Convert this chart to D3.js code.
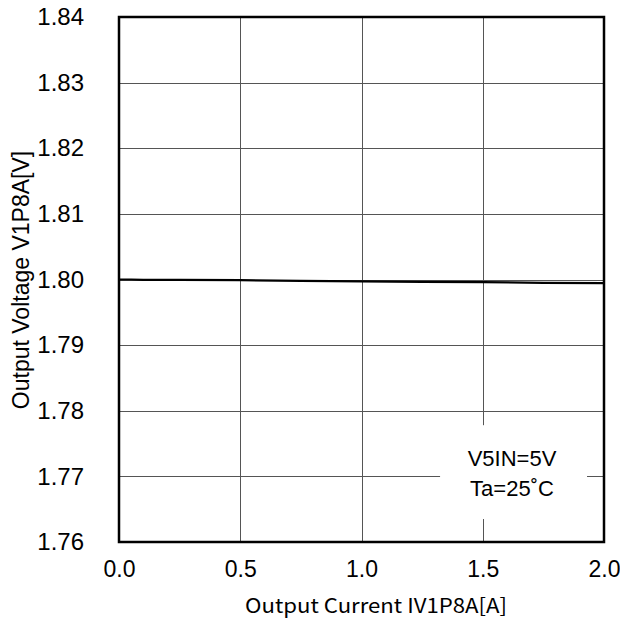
<!DOCTYPE html>
<html>
<head>
<meta charset="utf-8">
<script src="https://cdn.jsdelivr.net/npm/d3@7/dist/d3.min.js"></script>
<style>
  body { margin: 0; background: #fff; }
  svg { display: block; }
</style>
</head>
<body>
<div id="chart"></div>
<script>
// data
const currents = [0.0, 0.05, 0.1, 0.25, 0.5, 0.75, 1.0, 1.25, 1.5, 1.75, 2.0];
const voltages = [1.8000, 1.8000, 1.79995, 1.79993, 1.7999, 1.7998, 1.7997, 1.79965, 1.7996, 1.7995, 1.79945];
const xTicks = [0.0, 0.5, 1.0, 1.5, 2.0];
const yTicks = [1.76, 1.77, 1.78, 1.79, 1.80, 1.81, 1.82, 1.83, 1.84];
const notes = ['V5IN=5V', 'Ta=25\u02DAC'];

const width = 620, height = 626;
const margin = { top: 17, right: 16, bottom: 84, left: 119 };
const font = 'Liberation Sans, Arial, sans-serif';

const svg = d3.select('#chart').append('svg')
  .attr('width', width)
  .attr('height', height);

const x = d3.scaleLinear().domain([0, 2]).range([margin.left, width - margin.right]);
const y = d3.scaleLinear().domain([1.76, 1.84]).range([height - margin.bottom, margin.top]);

// grid
const grid = svg.append('g').attr('stroke', '#555').attr('stroke-width', 1);
grid.selectAll('line.v')
  .data(xTicks.slice(1, -1))
  .enter().append('line')
  .attr('class', 'v')
  .attr('x1', d => Math.round(x(d)) + 0.5).attr('x2', d => Math.round(x(d)) + 0.5)
  .attr('y1', y(1.84)).attr('y2', y(1.76));
grid.selectAll('line.h')
  .data(yTicks.slice(1, -1))
  .enter().append('line')
  .attr('class', 'h')
  .attr('x1', x(0)).attr('x2', x(2))
  .attr('y1', d => Math.round(y(d)) + 0.5).attr('y2', d => Math.round(y(d)) + 0.5);

// annotation box covers the grid
const box = { x0: 1.324, x1: 1.93, y0: 1.7635, y1: 1.7778 };
svg.append('rect')
  .attr('x', x(box.x0)).attr('y', y(box.y1))
  .attr('width', x(box.x1) - x(box.x0))
  .attr('height', y(box.y0) - y(box.y1))
  .attr('fill', '#fff');

svg.append('g')
  .attr('font-family', font)
  .attr('font-size', 22)
  .attr('text-anchor', 'middle')
  .selectAll('text')
  .data(notes)
  .enter().append('text')
  .attr('x', 512)
  .attr('y', (d, i) => 466 + i * 30)
  .text(d => d);

// data line
const line = d3.line().x(d => x(d[0])).y(d => y(d[1]));
svg.append('path')
  .datum(d3.zip(currents, voltages))
  .attr('fill', 'none')
  .attr('stroke', '#000')
  .attr('stroke-width', 2.2)
  .attr('d', line);

// frame
svg.append('rect')
  .attr('x', x(0)).attr('y', y(1.84))
  .attr('width', x(2) - x(0)).attr('height', y(1.76) - y(1.84))
  .attr('fill', 'none')
  .attr('stroke', '#000')
  .attr('stroke-width', 2.5);

// axes
const xAxis = d3.axisBottom(x).tickValues(xTicks).tickSize(0).tickPadding(19)
  .tickFormat(d3.format('.1f'));
const gx = svg.append('g')
  .attr('transform', `translate(0,${y(1.76)})`)
  .call(xAxis);
gx.select('.domain').remove();
gx.selectAll('text')
  .attr('font-family', font)
  .attr('font-size', 23)
  .attr('fill', '#000');

const yAxis = d3.axisLeft(y).tickValues(yTicks).tickSize(0).tickPadding(35)
  .tickFormat(d3.format('.2f'));
const gy = svg.append('g')
  .attr('transform', `translate(${x(0)},0)`)
  .call(yAxis);
gy.select('.domain').remove();
gy.selectAll('text')
  .attr('font-family', font)
  .attr('font-size', 24)
  .attr('fill', '#000');

// titles
svg.append('text')
  .attr('x', 376)
  .attr('y', 613)
  .attr('text-anchor', 'middle')
  .attr('font-family', 'Noto Sans CJK JP, sans-serif')
  .attr('font-size', 20)
  .attr('textLength', 262)
  .attr('lengthAdjust', 'spacingAndGlyphs')
  .text('Output Current IV1P8A[A]');

svg.append('text')
  .attr('transform', `translate(29,280) rotate(-90)`)
  .attr('text-anchor', 'middle')
  .attr('font-family', font)
  .attr('font-size', 23)
  .text('Output Voltage V1P8A[V]');
</script>
</body>
</html>
